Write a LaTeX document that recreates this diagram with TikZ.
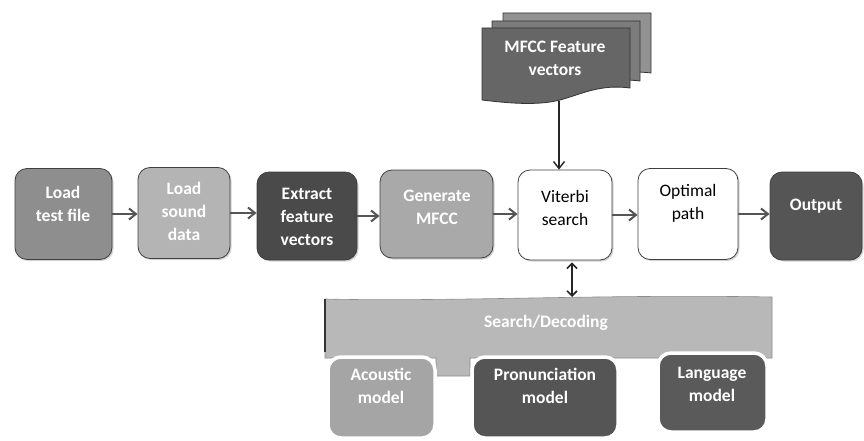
\documentclass[tikz,border=0pt]{standalone}
\usepackage{fontspec}
\setmainfont{Carlito}
\usetikzlibrary{arrows.meta,shadows}
\definecolor{cLoad}{HTML}{8E8E8E}
\definecolor{cSound}{HTML}{B4B4B4}
\definecolor{cExtract}{HTML}{4A4A4A}
\definecolor{cGen}{HTML}{A9A9A9}
\definecolor{cOut}{HTML}{555555}
\definecolor{cDocA}{HTML}{666666}
\definecolor{cDocB}{HTML}{7C7C7C}
\definecolor{cDocC}{HTML}{929292}
\definecolor{cBanner}{HTML}{B8B8B8}
\definecolor{cAcou}{HTML}{A5A5A5}
\definecolor{cPron}{HTML}{555555}
\definecolor{cLang}{HTML}{5A5A5A}
\definecolor{cArrow}{HTML}{555555}
\begin{document}
\begin{tikzpicture}[x=1pt,y=-1pt,
  box/.style={rounded corners=12pt, draw=black!75, line width=0.8pt,
    drop shadow={shadow xshift=1.5pt, shadow yshift=-1.5pt, opacity=0.35}},
  child/.style={rounded corners=13pt, draw=white, line width=3.5pt},
  wtext/.style={text=white, font=\bfseries\fontsize{17.5}{23}\selectfont, align=center},
  btext/.style={text=black, font=\fontsize{17.5}{23}\selectfont, align=center},
  flow/.style={-{Straight Barb[length=7pt,width=11pt]}, line width=2pt, draw=cArrow},
  dflow/.style={{Straight Barb[length=5pt,width=10pt]}-{Straight Barb[length=5pt,width=10pt]}, line width=1.6pt, draw=black!85},
  vline/.style={-{Straight Barb[length=7pt,width=11pt]}, line width=1.4pt, draw=black!85},
  doc/.style={draw=black!80, line width=0.8pt}
]
\useasboundingbox (0,0) rectangle (864,441);

% ---- top row boxes ----
\node[box, fill=cLoad, minimum width=97, minimum height=91] (b1) at (63.5,214) {};
\node[box, fill=cSound, minimum width=92, minimum height=91] (b2) at (184,213) {};
\node[box, fill=cExtract, minimum width=100, minimum height=88] (b3) at (307,216) {};
\node[box, fill=cGen, minimum width=113, minimum height=88] (b4) at (436.5,214) {};
\node[box, fill=white, minimum width=94, minimum height=90] (b5) at (565,215) {};
\node[box, fill=white, minimum width=100, minimum height=91] (b6) at (688,214) {};
\node[box, fill=cOut, minimum width=92, minimum height=88] (b7) at (816,216) {};

\node[wtext] (t1) at (63,204) {Load\\test file};
\node[wtext] (t2) at (184,211) {Load\\sound\\data};
\node[wtext] (t3) at (307,217) {Extract\\feature\\vectors};
\node[wtext] (t4) at (437,207) {Generate\\MFCC};
\node[btext] (t5) at (565,208) {Viterbi\\search};
\node[btext] (t6) at (688,203) {Optimal\\path};
\node[wtext] (t7) at (816,206) {Output};

\draw[flow] (b1.east) -- (b2.west |- b1.east);
\draw[flow] (b2.east) -- (b3.west |- b2.east);
\draw[flow] (b3.east) -- (b4.west |- b3.east);
\draw[flow] (b4.east) -- (b5.west |- b4.east);
\draw[flow] (b5.east) -- (b6.west |- b5.east);
\draw[flow] (b6.east) -- (b7.west |- b6.east);

% ---- MFCC feature vectors (multi-document) ----
\foreach \dx/\dy/\col in {21/-15/cDocC, 10/-7/cDocB, 0/0/cDocA}{
  \begin{scope}[shift={(482+\dx,28+\dy)}]
    \path[doc, fill=\col] (0,0) -- (148,0) -- (148,60)
      .. controls (118,56) and (100,66) .. (78,72)
      .. controls (55,78) and (25,75) .. (0,72) -- cycle;
  \end{scope}
}
\node[wtext] (mfcc) at (555,58) {MFCC Feature\\vectors};
\coordinate (docb) at (559,101);
\draw[vline] (docb) -- (docb |- b5.north);

% ---- Search/Decoding banner ----
\path[fill=cBanner, draw=black!45, line width=0.6pt]
  (325,299) .. controls (450,302) and (600,294) .. (772,297)
  -- (772,358) -- (470,358) -- (470,376) -- (436,376) -- (436,358) -- (325,358) -- cycle;
\draw[black!80, line width=1.2pt] (325,299) -- (325,352);
\node[wtext] (sd) at (546,323) {Search/Decoding};
\coordinate (bantop) at (572,297);
\draw[dflow, shorten <=2pt] (b5.south -| bantop) -- (bantop);

% ---- child models ----
\node[child, fill=cAcou, minimum width=107, minimum height=81] (m1) at (381.5,397.5) {};
\node[child, fill=cPron, minimum width=146, minimum height=81] (m2) at (545,397.5) {};
\node[child, fill=cLang, minimum width=109, minimum height=79] (m3) at (712.5,392.5) {};
\node[wtext] (mt1) at (381,386) {Acoustic\\model};
\node[wtext] (mt2) at (545,386) {Pronunciation\\model};
\node[wtext] (mt3) at (712,384) {Language\\model};
\end{tikzpicture}
\end{document}
